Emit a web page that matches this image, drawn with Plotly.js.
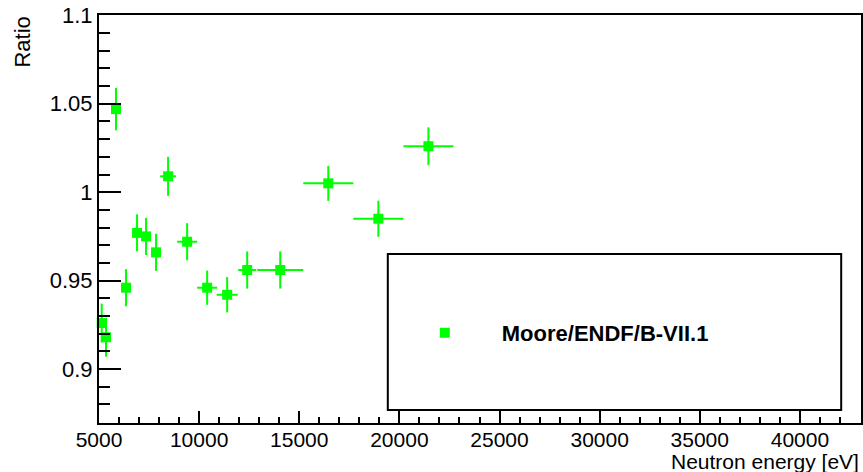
<!DOCTYPE html>
<html>
<head>
<meta charset="utf-8">
<script src="https://cdn.plot.ly/plotly-3.0.1.min.js"></script>
<style>html,body{margin:0;padding:0;background:#fff;}</style>
</head>
<body>
<div id="chart" style="width:863px;height:472px;"></div>
<script>
// Neutron energy [eV] (bin centres) and half bin widths
const energy    = [5135, 5350, 5850, 6350, 6900, 7350, 7850, 8450, 9400, 10400, 11400, 12400, 14050, 16450, 18950, 21450];
const energyErr = [100, 120, 150, 200, 250, 250, 250, 400, 500, 500, 525, 450, 1150, 1250, 1250, 1250];
// Ratio Moore / ENDF/B-VII.1 and its uncertainty
const ratio     = [0.926, 0.918, 1.047, 0.946, 0.977, 0.975, 0.966, 1.009, 0.972, 0.946, 0.942, 0.956, 0.956, 1.005, 0.985, 1.026];
const ratioErr  = [0.011, 0.011, 0.012, 0.0105, 0.0105, 0.0105, 0.0105, 0.011, 0.0105, 0.0097, 0.010, 0.0105, 0.0105, 0.0099, 0.0102, 0.0107];
const seriesName = 'Moore/ENDF/B-VII.1';
const xTitle = 'Neutron energy [eV]';
const yTitle = 'Ratio';

const font = 'Liberation Sans, Arial, sans-serif';
const green = '#00ff00';

const trace = {
  type: 'scatter',
  mode: 'markers',
  x: energy,
  y: ratio,
  name: seriesName,
  marker: {symbol: 'square', size: 10, color: green},
  error_x: {type: 'data', array: energyErr, visible: true, color: green, thickness: 2, width: 0},
  error_y: {type: 'data', array: ratioErr, visible: true, color: green, thickness: 2, width: 0},
  cliponaxis: false
};

const layout = {
  width: 863, height: 472,
  margin: {l: 99, r: 2, t: 15, b: 49},
  paper_bgcolor: '#fff', plot_bgcolor: '#fff',
  font: {family: font, size: 22, color: '#000'},
  separators: '.',
  showlegend: true,
  legend: {
    x: 0.379, xanchor: 'left', y: 0.2206, yanchor: 'middle',
    bgcolor: 'rgba(0,0,0,0)', borderwidth: 0,
    itemwidth: 104,
    font: {family: font, size: 22, color: '#000', weight: 'bold'}
  },
  xaxis: {
    range: [5000, 43050],
    tick0: 0, dtick: 5000,
    tickformat: 'd',
    ticks: 'inside', ticklen: 12, tickwidth: 2, tickcolor: '#000',
    ticklabelstandoff: -3,
    minor: {dtick: 1000, ticks: 'inside', ticklen: 6, tickwidth: 2, tickcolor: '#000'},
    exponentformat: 'none', separatethousands: false,
    showgrid: false, zeroline: false,
    showline: true, linewidth: 2, linecolor: '#000', mirror: true,
    tickfont: {family: font, size: 21, color: '#000'}
  },
  yaxis: {
    range: [0.8695, 1.1002],
    tick0: 0.9, dtick: 0.05,
    ticks: 'inside', ticklen: 22, tickwidth: 2, tickcolor: '#000',
    minor: {dtick: 0.01, ticks: 'inside', ticklen: 11, tickwidth: 2, tickcolor: '#000'},
    showgrid: false, zeroline: false,
    showline: true, linewidth: 2, linecolor: '#000', mirror: true,
    tickfont: {family: font, size: 22, color: '#000'}
  },
  shapes: [{
    type: 'rect', xref: 'paper', yref: 'paper',
    x0: 0.379, x1: 0.974, y0: 0.032, y1: 0.414,
    line: {color: '#000', width: 2}, fillcolor: '#fff', layer: 'below'
  }],
  annotations: [
    {text: xTitle, xref: 'paper', yref: 'paper', x: 1.0, y: -0.0955, xanchor: 'right', yanchor: 'middle',
     showarrow: false, font: {family: font, size: 21, color: '#000'}},
    {text: yTitle, xref: 'paper', yref: 'paper', x: -0.101, y: 1.0, xanchor: 'center', yanchor: 'top',
     textangle: -90, showarrow: false, font: {family: font, size: 22, color: '#000'}}
  ]
};

Plotly.newPlot('chart', [trace], layout, {displayModeBar: false, staticPlot: true});
</script>
</body>
</html>
